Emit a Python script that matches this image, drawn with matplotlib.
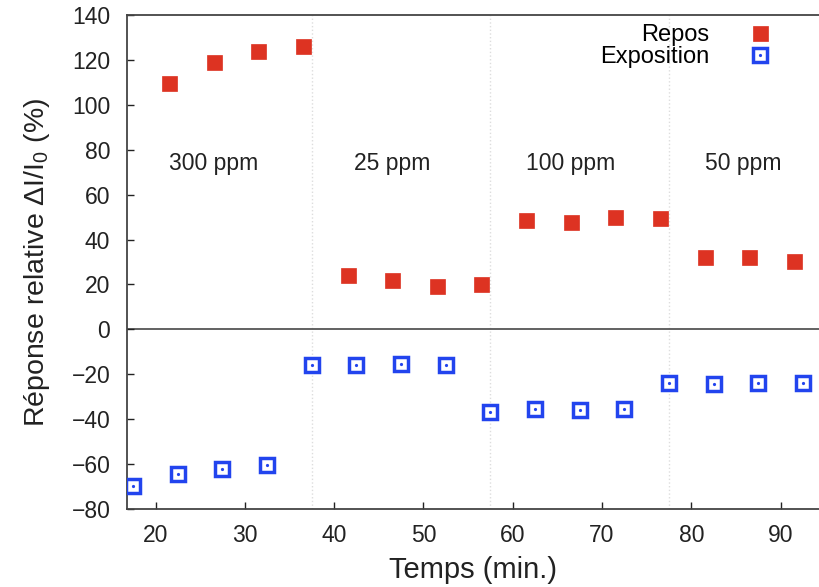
import matplotlib
matplotlib.use("Agg")
import matplotlib.pyplot as plt

plt.rcParams['font.family'] = ['Liberation Sans', 'DejaVu Sans']
plt.rcParams['mathtext.fontset'] = 'custom'
plt.rcParams['mathtext.rm'] = 'Liberation Sans'
plt.rcParams['mathtext.it'] = 'Liberation Sans'

repos_x = [21.5, 26.5, 31.5, 36.5, 41.5, 46.5, 51.5, 56.5, 61.5, 66.5, 71.5, 76.5, 81.5, 86.5, 91.5]
repos_y = [109.5, 119, 124, 126, 24, 22, 19.5, 20, 48.5, 48, 50, 49.5, 32, 32, 30.5]
expo_x = [17.5, 22.5, 27.5, 32.5, 37.5, 42.5, 47.5, 52.5, 57.5, 62.5, 67.5, 72.5, 77.5, 82.5, 87.5, 92.5]
expo_y = [-70, -64.5, -62, -60.5, -16, -16, -15.5, -16, -37, -35.5, -36, -35.5, -24, -24.5, -24, -24]
separators = [37.5, 57.5, 77.5]
conc_labels = ['300 ppm', '25 ppm', '100 ppm', '50 ppm']
conc_x = [26.5, 46.5, 66.5, 85.8]
conc_y = 74

fig = plt.figure(figsize=(8.19, 5.87), dpi=100)
ax = fig.add_axes([0.155, 0.133, 0.845, 0.8414])

for s in separators:
    ax.axvline(s, color='#dddddd', lw=1.0, ls=':', zorder=0)
ax.axhline(0, color='#555555', lw=1.3, zorder=1)

red = '#dd3322'
blue = '#2244ee'
h1, = ax.plot(repos_x, repos_y, ls='none', marker='s', ms=10.8, mfc=red, mec=red, mew=0.5, zorder=3)
h2, = ax.plot(expo_x, expo_y, ls='none', marker='s', ms=10.2, mfc='white', mec=blue, mew=2.5, zorder=3)
h3, = ax.plot(expo_x, expo_y, ls='none', marker='o', ms=2.3, mfc=blue, mec=blue, mew=0, zorder=4)

for lab, x in zip(conc_labels, conc_x):
    ax.text(x, conc_y, lab, ha='center', va='center', fontsize=16.5, color='#222222')

ax.set_xlim(16.8, 94.3)
ax.set_ylim(-80, 140)
ax.set_xticks([20, 30, 40, 50, 60, 70, 80, 90])
ax.set_yticks(range(-80, 141, 20))
ax.set_yticklabels(['\u221280', '\u221260', '\u221240', '\u221220', '0', '20', '40', '60', '80', '100', '120', '140'])
ax.tick_params(direction='in', length=5, width=1, labelsize=16.5, colors='#222222', top=False, right=False)
ax.tick_params(axis='y', pad=12)
ax.tick_params(axis='x', pad=11)
for sp in ['left', 'bottom', 'top']:
    ax.spines[sp].set_color('#444444')
    ax.spines[sp].set_linewidth(1.3)
ax.spines['right'].set_visible(False)

ax.set_xlabel('Temps (min.)', fontsize=21, color='#222222', labelpad=6)
ax.set_ylabel('Réponse relative ΔI/I$_0$ (%)', fontsize=20.5, color='#222222', labelpad=14)

leg = ax.legend([h1, (h2, h3)], ['Repos', 'Exposition'], loc='upper right', bbox_to_anchor=(0.945, 1.0),
                frameon=False, markerfirst=False, fontsize=17, handlelength=1.0, handletextpad=1.65,
                labelspacing=0.0, borderaxespad=0.0)

fig.savefig('out.png', dpi=100)
